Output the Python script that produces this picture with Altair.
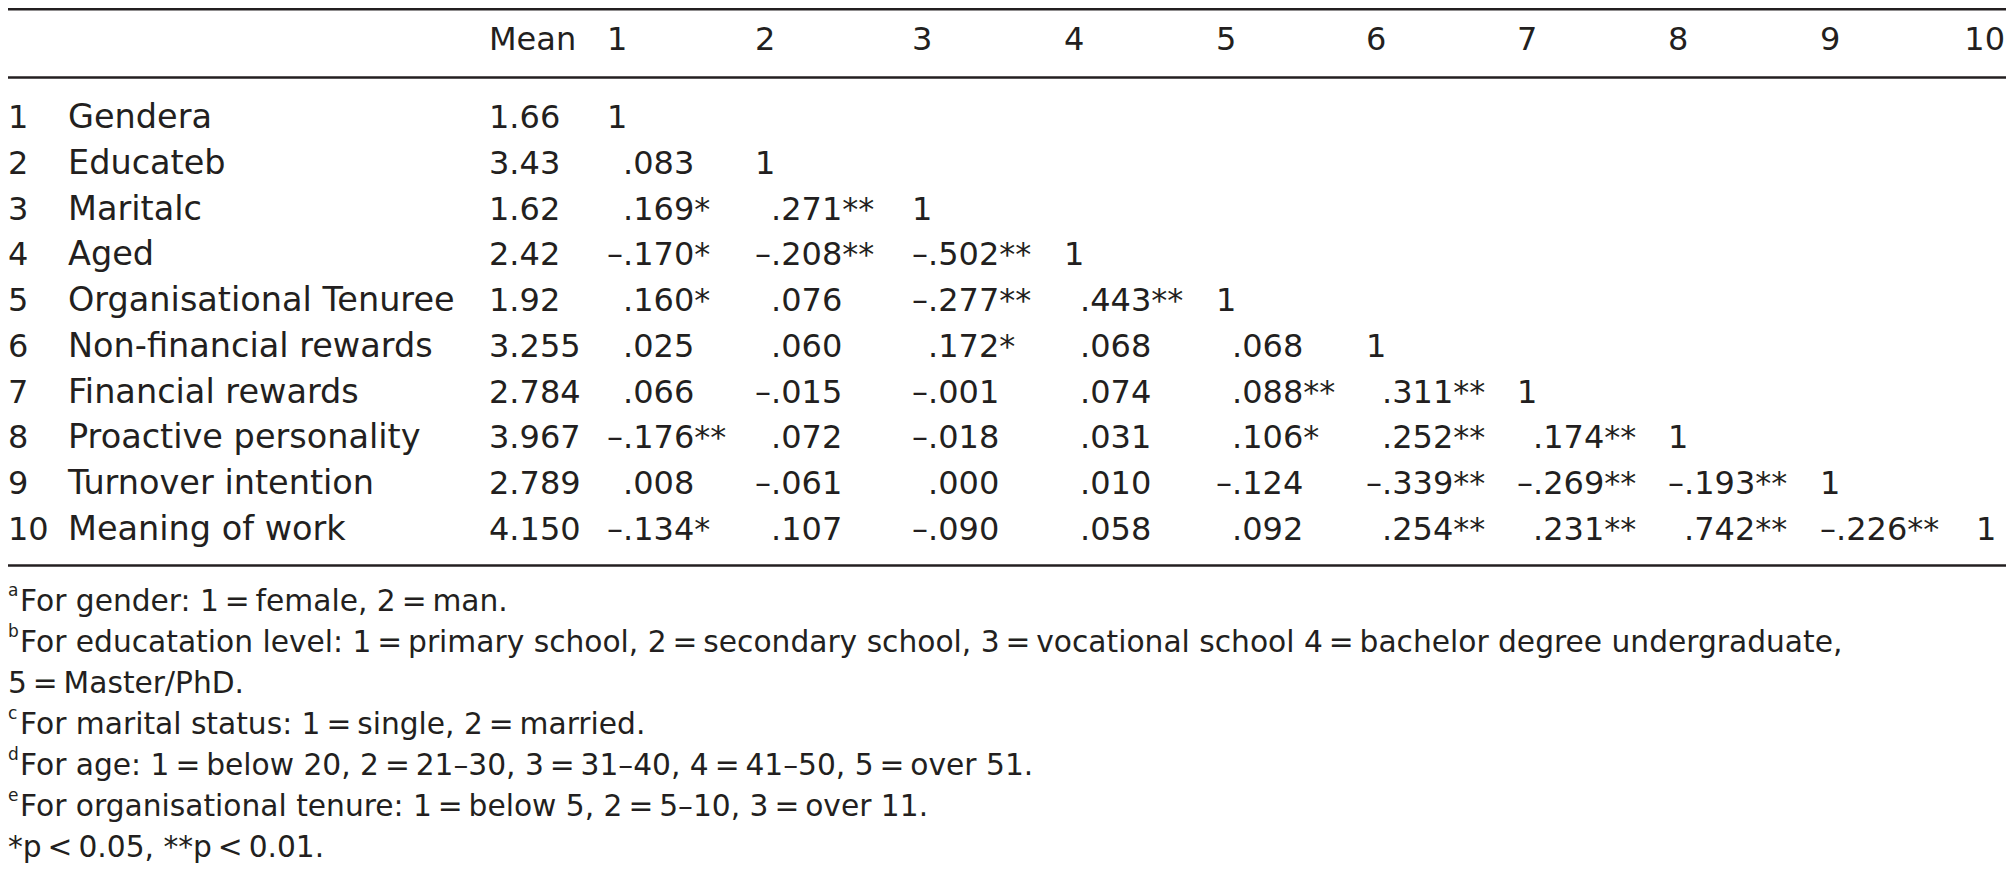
import altair as alt
import pandas as pd

# ---------------- data ----------------
ROW_NUMS = ["1", "2", "3", "4", "5", "6", "7", "8", "9", "10"]
ROW_LABELS = ["Gendera", "Educateb", "Maritalc", "Aged", "Organisational Tenuree",
              "Non-financial rewards", "Financial rewards", "Proactive personality",
              "Turnover intention", "Meaning of work"]
MEANS = ["1.66", "3.43", "1.62", "2.42", "1.92", "3.255", "2.784", "3.967", "2.789", "4.150"]
HEADERS = ["Mean", "1", "2", "3", "4", "5", "6", "7", "8", "9", "10"]
CORR = [
    ["1"],
    [".083", "1"],
    [".169*", ".271**", "1"],
    ["–.170*", "–.208**", "–.502**", "1"],
    [".160*", ".076", "–.277**", ".443**", "1"],
    [".025", ".060", ".172*", ".068", ".068", "1"],
    [".066", "–.015", "–.001", ".074", ".088**", ".311**", "1"],
    ["–.176**", ".072", "–.018", ".031", ".106*", ".252**", ".174**", "1"],
    [".008", "–.061", ".000", ".010", "–.124", "–.339**", "–.269**", "–.193**", "1"],
    ["–.134*", ".107", "–.090", ".058", ".092", ".254**", ".231**", ".742**", "–.226**", "1"],
]
T = "\u2009"
NOTE_SUPS = ["a", "b", "", "c", "d", "e", ""]
NOTE_TEXTS = [
    f"For gender: 1{T}={T}female, 2{T}={T}man.",
    f"For educatation level: 1{T}={T}primary school, 2{T}={T}secondary school, 3{T}={T}vocational school 4{T}={T}bachelor degree undergraduate,",
    f"5{T}={T}Master/PhD.",
    f"For marital status: 1{T}={T}single, 2{T}={T}married.",
    f"For age: 1{T}={T}below 20, 2{T}={T}21–30, 3{T}={T}31–40, 4{T}={T}41–50, 5{T}={T}over 51.",
    f"For organisational tenure: 1{T}={T}below 5, 2{T}={T}5–10, 3{T}={T}over 11.",
    f"*p{T}<{T}0.05, **p{T}<{T}0.01.",
]

# ---------------- layout (page pixels) ----------------
W, H = 1998, 855
OFF = 8
X_NUM, X_LABEL, X_MEAN = 8, 68, 489
X_COLS = [607, 755, 912, 1064, 1216, 1366, 1517, 1668, 1820, 1976]
X_RIGHT = OFF + W - 1
X_NOTE_SUP, X_NOTE = 8, 20
DEC = 16
Y_HEADER = 50
Y_ROW0, ROW_PITCH = 128, 45.75
Y_NOTE0, NOTE_PITCH = 611, 41
SUP_RAISE = 15
Y_RULES = [9.3, 77.5, 565.5]
INK = "#231f20"
FONT = "DejaVu Sans"
FS = 32
FS_LABEL = 33.5
FS_NOTE = 29.7
FS_SUP = 17

def px(v):
    return v - OFF

def row_y(i):
    return px(Y_ROW0 + ROW_PITCH * i)

xs = alt.Scale(domain=[0, W], nice=False, zero=False)
ys = alt.Scale(domain=[0, H], nice=False, zero=False, reverse=True)

def txt(df, align="left", size=FS, dx=0):
    return alt.Chart(df).mark_text(
        align=align, baseline="alphabetic", font=FONT, fontSize=size,
        color=INK, dx=dx
    ).encode(
        x=alt.X("x:Q", scale=xs, axis=None),
        y=alt.Y("y:Q", scale=ys, axis=None),
        text="t:N",
    )

# header: all but the last column left-aligned; the last one kept inside the right edge
hdr = pd.DataFrame({"t": HEADERS[:-1],
                    "x": [px(X_MEAN)] + [px(v) for v in X_COLS[:-1]],
                    "y": [px(Y_HEADER)] * (len(HEADERS) - 1)})
hdr_last = pd.DataFrame({"t": [HEADERS[-1]], "x": [px(X_RIGHT)], "y": [px(Y_HEADER)]})
nums = pd.DataFrame({"t": ROW_NUMS, "x": [px(X_NUM)] * 10, "y": [row_y(i) for i in range(10)]})
labs = pd.DataFrame({"t": ROW_LABELS, "x": [px(X_LABEL)] * 10, "y": [row_y(i) for i in range(10)]})
means = pd.DataFrame({"t": MEANS, "x": [px(X_MEAN)] * 10, "y": [row_y(i) for i in range(10)]})

diag, signs, bodies = [], [], []
for i, row in enumerate(CORR):
    for j, v in enumerate(row):
        x = px(X_COLS[j])
        y = row_y(i)
        if v == "1":
            diag.append({"t": v, "x": x, "y": y})
        elif v.startswith("–"):
            signs.append({"t": "–", "x": x, "y": y})
            bodies.append({"t": v[1:], "x": x, "y": y})
        else:
            bodies.append({"t": v, "x": x, "y": y})
diag = pd.DataFrame(diag)
signs = pd.DataFrame(signs)
bodies = pd.DataFrame(bodies)

note_y = [px(Y_NOTE0 + NOTE_PITCH * k) for k in range(len(NOTE_TEXTS))]
notes = pd.DataFrame({"t": NOTE_TEXTS,
                      "x": [px(X_NOTE) if s else px(X_NOTE_SUP) for s in NOTE_SUPS],
                      "y": note_y})
sup_idx = [k for k, s in enumerate(NOTE_SUPS) if s]
sups = pd.DataFrame({"t": [NOTE_SUPS[k] for k in sup_idx],
                     "x": [px(X_NOTE_SUP)] * len(sup_idx),
                     "y": [note_y[k] - SUP_RAISE for k in sup_idx]})

rules = pd.DataFrame({"y": [max(px(v), 1.3) for v in Y_RULES]})
rule_layer = alt.Chart(rules).mark_rule(color=INK, strokeWidth=2.6).encode(
    y=alt.Y("y:Q", scale=ys, axis=None),
    x=alt.value(0), x2=alt.value(W),
)

chart = alt.layer(
    rule_layer,
    txt(hdr),
    txt(hdr_last, align="right"),
    txt(nums),
    txt(labs, size=FS_LABEL),
    txt(means),
    txt(diag),
    txt(signs, align="right", dx=DEC),
    txt(bodies, align="left", dx=DEC),
    txt(sups, size=FS_SUP),
    txt(notes, size=FS_NOTE),
).properties(
    width=W, height=H,
    autosize=alt.AutoSizeParams(type="none"),
    padding=0,
).configure_view(stroke=None)

chart.save("out.html", embed_options={"renderer": "svg", "actions": False})
